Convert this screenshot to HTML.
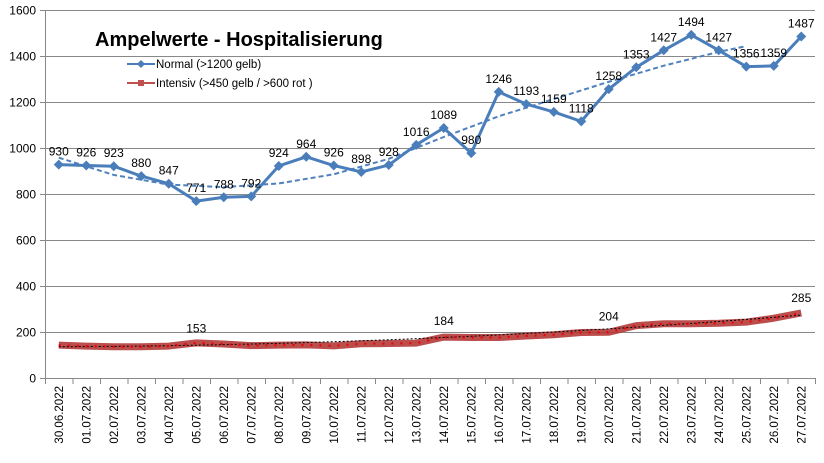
<!DOCTYPE html>
<html><head><meta charset="utf-8"><style>
html,body{margin:0;padding:0;background:#fff}
svg{display:block;font-family:"Liberation Sans","DejaVu Sans",sans-serif}
</style></head><body>
<svg id="c" width="824" height="463" xmlns="http://www.w3.org/2000/svg"></svg>
<script>
const s=document.getElementById('c');
const blue=[930,926,923,880,847,771,788,792,924,964,926,898,928,1016,1089,980,1246,1193,1159,1118,1258,1353,1427,1494,1427,1356,1359,1487];
const red=[145,141,138,138,141,155,150,143,145,146,142,151,152,154,180,178,178,185,190,200,201,230,238,238,240,245,262,285];
const X=i=>58.75+i*27.5, Y=v=>378.5-v*0.23;
let h='';
for(let v=200;v<=1600;v+=200)h+=`<line x1="45" x2="815" y1="${Y(v)}" y2="${Y(v)}" stroke="#888" stroke-width="1"/>`;
h+=`<line x1="45.5" x2="45.5" y1="10" y2="379" stroke="#888"/><line x1="45" x2="815" y1="378.5" y2="378.5" stroke="#888"/>`;
for(let v=0;v<=1600;v+=200){h+=`<line x1="40" x2="45" y1="${Y(v)}" y2="${Y(v)}" stroke="#888"/><text x="36" y="${Y(v)+4}" font-size="12" text-anchor="end">${v}</text>`;}
for(let i=0;i<=28;i++){let x=45.5+i*27.5;h+=`<line x1="${x}" x2="${x}" y1="378" y2="384" stroke="#888"/>`;}
const d=new Date(2022,5,30);
for(let i=0;i<28;i++){let dd=new Date(d.getTime()+i*864e5);let t=String(dd.getDate()).padStart(2,'0')+'.'+String(dd.getMonth()+1).padStart(2,'0')+'.2022';
h+=`<text transform="translate(${X(i)+4},386) rotate(-90)" font-size="11.5" text-anchor="end">${t}</text>`;}
// red
h+=`<polyline points="${red.map((v,i)=>X(i)+','+Y(v)).join(' ')}" fill="none" stroke="#b43a3a" stroke-width="7" stroke-linejoin="round" opacity="0.9"/>`;
h+=`<polyline points="${red.map((v,i)=>X(i)+','+Y(138+i*i*0.17+i*0.5)).join(' ')}" fill="none" stroke="#000" stroke-width="1" stroke-dasharray="2,2"/>`;
h+=`<polyline points="${red.map((v,i)=>X(i)+','+Y(v)).join(' ')}" fill="none" stroke="#e00" stroke-width="2" stroke-dasharray="2,7"/>`;
// blue trend
const tr=[[0,960],[2,885],[4,843],[6,832],[8,848],[10,888],[12,955],[14,1050],[16,1140],[18,1215],[20,1290],[22,1360],[24,1420],[25,1445]];
h+=`<polyline points="${tr.map(p=>X(p[0])+','+Y(p[1])).join(' ')}" fill="none" stroke="#4f81bd" stroke-width="2" stroke-dasharray="5,3"/>`;
h+=`<polyline points="${blue.map((v,i)=>X(i)+','+Y(v)).join(' ')}" fill="none" stroke="#4a7ebb" stroke-width="3" stroke-linejoin="round"/>`;
blue.forEach((v,i)=>{let x=X(i),y=Y(v);h+=`<polygon points="${x},${y-5} ${x+5},${y} ${x},${y+5} ${x-5},${y}" fill="#4a7ebb"/><text x="${x}" y="${y-9}" font-size="12" text-anchor="middle">${v}</text>`;});
[[5,153],[14,184],[20,204],[27,285]].forEach(([i,v])=>{h+=`<text x="${X(i)}" y="${Y(v)-11}" font-size="12" text-anchor="middle">${v}</text>`;});
h+=`<text x="95" y="46" font-size="20" font-weight="bold">Ampelwerte - Hospitalisierung</text>`;
h+=`<line x1="127" x2="155" y1="64" y2="64" stroke="#4a7ebb" stroke-width="2"/><polygon points="141,60 145,64 141,68 137,64" fill="#4a7ebb"/><text x="156" y="68" font-size="11.5">Normal (&gt;1200 gelb)</text>`;
h+=`<line x1="127" x2="155" y1="83" y2="83" stroke="#c0504d" stroke-width="2"/><rect x="138" y="80" width="6" height="6" fill="#c0504d"/><text x="156" y="87" font-size="11.5">Intensiv (&gt;450 gelb / &gt;600 rot )</text>`;
s.innerHTML=h;
</script>
</body></html>
